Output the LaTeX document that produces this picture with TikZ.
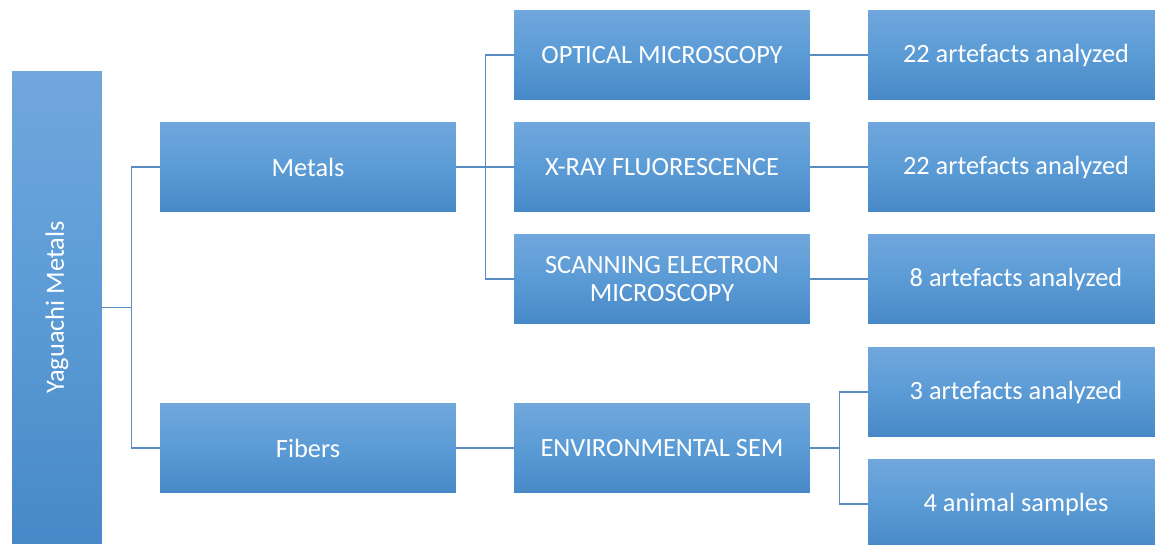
\documentclass[tikz,border=0pt]{standalone}
\usepackage{fontspec}
\setmainfont{Carlito}
\definecolor{boxtop}{HTML}{70A7DD}
\definecolor{boxmid}{HTML}{5B9BD5}
\definecolor{boxbot}{HTML}{4788C8}
\definecolor{linkcol}{HTML}{5A8BC4}
\tikzset{
  box/.style={top color=boxtop, bottom color=boxbot, middle color=boxmid,
    minimum width=5.92cm, minimum height=1.8cm, inner sep=0pt,
    text=white, align=center, font=\fontsize{15}{16}\selectfont},
  link/.style={draw=linkcol, line width=0.8pt}
}
\begin{document}
\begin{tikzpicture}[x=0.02cm, y=-0.02cm]
    \clip (0,0) rectangle (1155,544);
    \fill[white] (0,0) rectangle (1155,544);
    % root
    \node[box, minimum width=1.8cm, minimum height=9.46cm] (root) at (57,307.5)
        {\rotatebox{90}{Yaguachi Metals}};
    % second level
    \node[box] (metals) at (308,167) {Metals};
    \node[box] (fibers) at (308,448) {Fibers};
    % methods
    \node[box] (optical) at (662,55) {OPTICAL MICROSCOPY};
    \node[box] (xrf) at (662,167) {X-RAY FLUORESCENCE};
    \node[box] (sem) at (662,279) {SCANNING ELECTRON\\MICROSCOPY};
    \node[box] (esem) at (662,448) {ENVIRONMENTAL SEM};
    % results
    \node[box] (res1) at (1016,55) {22 artefacts analyzed};
    \node[box] (res2) at (1016,167) {22 artefacts analyzed};
    \node[box] (res3) at (1016,279) {8 artefacts analyzed};
    \node[box] (res4) at (1016,392) {3 artefacts analyzed};
    \node[box] (res5) at (1016,504) {4 animal samples};
    % connectors
    \draw[link] (root.east) -- ++(29,0) coordinate (r1);
    \draw[link] (metals.west) -| (r1) |- (fibers.west);
    \draw[link] (metals.east) -- ++(29,0) coordinate (m1);
    \draw[link] (optical.west) -| (m1) |- (sem.west);
    \draw[link] (m1) -- (xrf.west);
    \draw[link] (fibers.east) -- (esem.west);
    \draw[link] (optical.east) -- (res1.west);
    \draw[link] (xrf.east) -- (res2.west);
    \draw[link] (sem.east) -- (res3.west);
    \draw[link] (esem.east) -- ++(29,0) coordinate (e1);
    \draw[link] (res4.west) -| (e1) |- (res5.west);
\end{tikzpicture}
\end{document}
